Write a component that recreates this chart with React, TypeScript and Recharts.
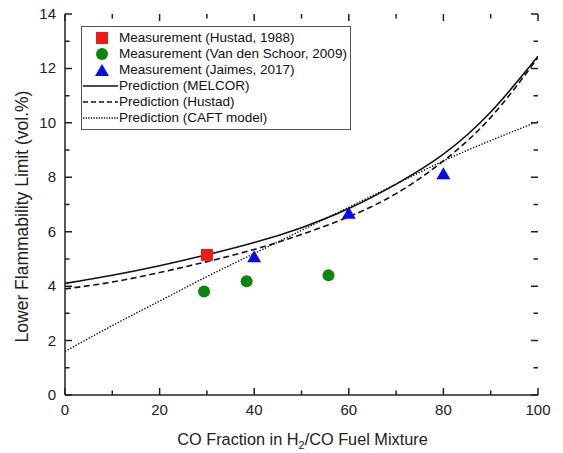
import React from "react";
import { ComposedChart, Line, Scatter, XAxis, YAxis } from "recharts";

const xValues = [0, 10, 20, 30, 40, 50, 60, 70, 80, 90, 100];
const melcor = [4.1, 4.4, 4.75, 5.15, 5.6, 6.15, 6.85, 7.75, 8.85, 10.4, 12.45];
const hustadPred = [3.9, 4.15, 4.5, 4.9, 5.35, 5.9, 6.55, 7.4, 8.6, 10.2, 12.4];
const caft = [1.6, 2.55, 3.45, 4.35, 5.2, 6.05, 6.9, 7.75, 8.6, 9.35, 10.05];

const hustadX = [30];
const hustadY = [5.15];
const schoorX = [29.4, 38.4, 55.7];
const schoorY = [3.8, 4.18, 4.4];
const jaimesX = [40, 60, 80];
const jaimesY = [5.1, 6.7, 8.15];

const xTicks = [0, 10, 20, 30, 40, 50, 60, 70, 80, 90, 100];
const yTicks = [0, 1, 2, 3, 4, 5, 6, 7, 8, 9, 10, 11, 12, 13, 14];

const lineData = xValues.map((x, i) => ({ x, melcor: melcor[i], hustad: hustadPred[i], caft: caft[i] }));
const hustadData = hustadX.map((x, i) => ({ x, y: hustadY[i] }));
const schoorData = schoorX.map((x, i) => ({ x, y: schoorY[i] }));
const jaimesData = jaimesX.map((x, i) => ({ x, y: jaimesY[i] }));

const FONT = "'Liberation Sans', Arial, sans-serif";
const AX = "#222";
const RED = "#ee1a1a";
const GREEN = "#0b860b";
const BLUE = "#0a0aee";

const W = 555;
const H = 445;
const MARGIN = { top: 6, right: 25, left: 0, bottom: 0 };
const Y_AXIS_W = 57;
const X_AXIS_H = 58;
const PLOT_W = W - MARGIN.left - MARGIN.right - Y_AXIS_W;
const PLOT_H = H - MARGIN.top - MARGIN.bottom - X_AXIS_H;
const MAJOR = 7;
const MINOR = 4.5;
const TW = 1.5;

const BottomTick = (p: any) => {
  const { x, y, payload } = p;
  const major = payload.value % 20 === 0;
  const len = major ? MAJOR : MINOR;
  const top = y - PLOT_H;
  return (
    <g>
      <path d={`M${x},${y}V${y - len}M${x},${top}V${top + len}`} stroke={AX} strokeWidth={TW} fill="none" />
      {major && (
        <text x={x} y={y + 20} textAnchor="middle" fontSize={15} fontFamily={FONT} fill={AX}>
          {payload.value}
        </text>
      )}
    </g>
  );
};
const LeftTick = (p: any) => {
  const { x, y, payload } = p;
  const major = payload.value % 2 === 0;
  const len = major ? MAJOR : MINOR;
  const right = x + PLOT_W;
  return (
    <g>
      <path d={`M${x},${y}H${x + len}M${right},${y}H${right - len}`} stroke={AX} strokeWidth={TW} fill="none" />
      {major && (
        <text x={x - 9} y={y + 5} textAnchor="end" fontSize={15} fontFamily={FONT} fill={AX}>
          {payload.value}
        </text>
      )}
    </g>
  );
};

const SquareShape = (p: any) => (
  <rect x={p.cx - 6} y={p.cy - 6} width={12} height={12} fill={RED} />
);
const CircleShape = (p: any) => <circle cx={p.cx} cy={p.cy} r={6} fill={GREEN} />;
const TriangleShape = (p: any) => (
  <polygon
    points={`${p.cx - 7},${p.cy + 6} ${p.cx + 7},${p.cy + 6} ${p.cx},${p.cy - 6}`}
    fill={BLUE}
  />
);

const XLabel = (p: any) => {
  const vb = p.viewBox;
  return (
    <text x={vb.x + vb.width / 2 + 1} y={vb.y + 50} textAnchor="middle" fontSize={16.3} fontFamily={FONT} fill={AX}>
      CO Fraction in H
      <tspan fontSize={11} dy={4}>2</tspan>
      <tspan dy={-4}>/CO Fuel Mixture</tspan>
    </text>
  );
};
const YLabel = (p: any) => {
  const vb = p.viewBox;
  const cx = 14;
  const cy = vb.y + vb.height / 2 + 12;
  return (
    <text
      x={cx}
      y={cy}
      textAnchor="middle"
      dominantBaseline="central"
      fontSize={17.5}
      fontFamily={FONT}
      fill={AX}
      transform={`rotate(-90 ${cx} ${cy})`}
    >
      Lower Flammability Limit (vol.%)
    </text>
  );
};

const legendItems = [
  { label: "Measurement (Hustad, 1988)", kind: "square" },
  { label: "Measurement (Van den Schoor, 2009)", kind: "circle" },
  { label: "Measurement (Jaimes, 2017)", kind: "triangle" },
  { label: "Prediction (MELCOR)", kind: "solid" },
  { label: "Prediction (Hustad)", kind: "dashed" },
  { label: "Prediction (CAFT model)", kind: "dotted" },
];

const LegendMarker = ({ kind }: { kind: string }) => (
  <svg width={36} height={16} style={{ display: "block" }}>
    {kind === "square" && <rect x={14} y={2} width={12} height={12} fill={RED} />}
    {kind === "circle" && <circle cx={20} cy={8} r={6} fill={GREEN} />}
    {kind === "triangle" && <polygon points="13,14 27,14 20,2" fill={BLUE} />}
    {kind === "solid" && <line x1={1} x2={36} y1={8} y2={8} stroke="#111" strokeWidth={1.5} />}
    {kind === "dashed" && (
      <line x1={1} x2={36} y1={8} y2={8} stroke="#111" strokeWidth={1.5} strokeDasharray="5 3" />
    )}
    {kind === "dotted" && (
      <line x1={1} x2={36} y1={8} y2={8} stroke="#111" strokeWidth={1.3} strokeDasharray="1.3 1.3" />
    )}
  </svg>
);

export default function App() {
  return (
    <div style={{ position: "relative", width: W, height: H }}>
      <ComposedChart width={W} height={H} data={lineData} margin={MARGIN}>
        <XAxis
          xAxisId="b"
          dataKey="x"
          type="number"
          domain={[0, 100]}
          allowDataOverflow
          ticks={xTicks}
          interval={0}
          height={X_AXIS_H}
          tickSize={0}
          tickMargin={0}
          tickLine={false}
          tick={<BottomTick />}
          axisLine={{ stroke: AX, strokeWidth: 1.5 }}
          label={<XLabel />}
        />
        <XAxis
          xAxisId="t"
          orientation="top"
          dataKey="x"
          type="number"
          domain={[0, 100]}
          allowDataOverflow
          height={0}
          tick={false}
          tickLine={false}
          axisLine={{ stroke: AX, strokeWidth: 1.5 }}
        />
        <YAxis
          yAxisId="l"
          type="number"
          domain={[0, 14]}
          allowDataOverflow
          ticks={yTicks}
          interval={0}
          width={Y_AXIS_W}
          tickSize={0}
          tickMargin={0}
          tickLine={false}
          tick={<LeftTick />}
          axisLine={{ stroke: AX, strokeWidth: 1.5 }}
          label={<YLabel />}
        />
        <YAxis
          yAxisId="r"
          orientation="right"
          type="number"
          domain={[0, 14]}
          allowDataOverflow
          width={0}
          tick={false}
          tickLine={false}
          axisLine={{ stroke: AX, strokeWidth: 1.5 }}
        />
        <Line
          xAxisId="t"
          yAxisId="r"
          type="linear"
          dataKey="melcor"
          stroke="none"
          strokeWidth={0}
          dot={false}
          activeDot={false}
          legendType="none"
          isAnimationActive={false}
        />
        <Line xAxisId="b" yAxisId="l" type="natural" dataKey="caft" stroke="#111" strokeWidth={1.4} strokeDasharray="1.4 1.6" dot={false} isAnimationActive={false} />
        <Line xAxisId="b" yAxisId="l" type="natural" dataKey="hustad" stroke="#111" strokeWidth={1.6} strokeDasharray="6 3.5" dot={false} isAnimationActive={false} />
        <Line xAxisId="b" yAxisId="l" type="natural" dataKey="melcor" stroke="#111" strokeWidth={1.6} dot={false} isAnimationActive={false} />
        <Scatter xAxisId="b" yAxisId="l" data={hustadData} dataKey="y" shape={<SquareShape />} isAnimationActive={false} />
        <Scatter xAxisId="b" yAxisId="l" data={schoorData} dataKey="y" shape={<CircleShape />} isAnimationActive={false} />
        <Scatter xAxisId="b" yAxisId="l" data={jaimesData} dataKey="y" shape={<TriangleShape />} isAnimationActive={false} />
      </ComposedChart>
      <div
        style={{
          position: "absolute",
          left: 73,
          top: 18,
          width: 268,
          height: 99,
          border: "1px solid #555",
          background: "#fff",
          boxSizing: "content-box",
          paddingTop: 3,
          fontFamily: FONT,
          fontSize: 13.5,
          color: "#111",
        }}
      >
        {legendItems.map((it) => (
          <div key={it.label} style={{ display: "flex", alignItems: "center", height: 16, lineHeight: "16px" }}>
            <LegendMarker kind={it.kind} />
            <span style={{ marginLeft: 1, whiteSpace: "nowrap" }}>{it.label}</span>
          </div>
        ))}
      </div>
    </div>
  );
}
